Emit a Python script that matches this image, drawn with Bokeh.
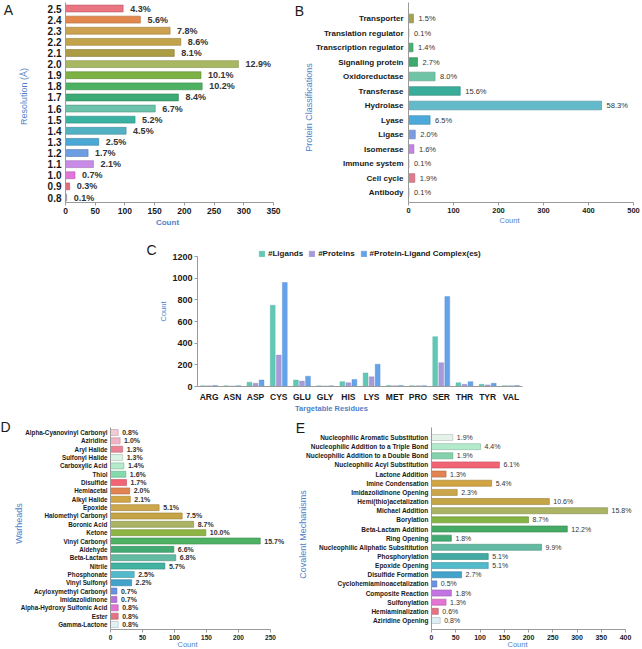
import math
from bokeh.plotting import figure
from bokeh.models import (Range1d, FactorRange, Legend, LegendItem, ColumnDataSource,
                          FixedTicker, GridBox)
from bokeh.layouts import column, row
from bokeh.transform import dodge
from bokeh.embed import file_html
from bokeh.resources import INLINE
from bokeh.core.properties import value

FONT = "Liberation Sans"
BLUE = "#4F7FC9"
AXIS = "#9a9a9a"
TXT = "#1a1a1a"

# ---------------- data ----------------
res_labels = ["2.5", "2.4", "2.3", "2.2", "2.1", "2.0", "1.9", "1.8", "1.7", "1.6",
              "1.5", "1.4", "1.3", "1.2", "1.1", "1.0", "0.9", "0.8"]
res_counts = [97, 126, 176, 194, 183, 291, 228, 230, 190, 151, 117, 102, 56, 38, 47, 16, 7, 2]
res_pct = ["4.3%", "5.6%", "7.8%", "8.6%", "8.1%", "12.9%", "10.1%", "10.2%", "8.4%", "6.7%",
           "5.2%", "4.5%", "2.5%", "1.7%", "2.1%", "0.7%", "0.3%", "0.1%"]
res_colors = ["#EA7482", "#E2874E", "#CCA250", "#C2A24A", "#AC9C44", "#A8B862", "#7CB244",
              "#4CB262", "#3CAA74", "#6CC2AA", "#3AB2A2", "#52B2C4", "#4AA8D4", "#6E9EE2",
              "#C98AE8", "#E274DA", "#E26A7A", "#A8A8B8"]

cls_labels = ["Transporter", "Translation regulator", "Transcription regulator", "Signaling protein",
              "Oxidoreductase", "Transferase", "Hydrolase", "Lyase", "Ligase", "Isomerase",
              "Immune system", "Cell cycle", "Antibody"]
cls_counts = [11, 1, 10, 20, 59, 115, 429, 48, 15, 12, 1, 14, 1]
cls_pct = ["1.5%", "0.1%", "1.4%", "2.7%", "8.0%", "15.6%", "58.3%", "6.5%", "2.0%", "1.6%",
           "0.1%", "1.9%", "0.1%"]
cls_colors = ["#A4A450", "#B0B0B0", "#44B474", "#3CAA6C", "#70C4A6", "#3AAC9A", "#62BACA",
              "#4CAADA", "#7C9CE2", "#C484E4", "#B0B0B0", "#E27C8C", "#B0B0B0"]

residues = ["ARG", "ASN", "ASP", "CYS", "GLU", "GLY", "HIS", "LYS", "MET", "PRO",
            "SER", "THR", "TYR", "VAL"]
n_ligands = [8, 7, 40, 750, 60, 6, 45, 125, 9, 8, 460, 35, 20, 8]
n_proteins = [6, 5, 30, 290, 50, 5, 35, 90, 7, 6, 220, 20, 15, 7]
n_complexes = [9, 8, 60, 960, 95, 7, 65, 205, 10, 8, 830, 45, 30, 9]
series_names = ["#Ligands", "#Proteins", "#Protein-Ligand Complex(es)"]
series_colors = ["#62C8B6", "#A89ADA", "#64A2EA"]

war_labels = ["Alpha-Cyanovinyl Carbonyl", "Aziridine", "Aryl Halide", "Sulfonyl Halide",
              "Carboxylic Acid", "Thiol", "Disulfide", "Hemiacetal", "Alkyl Halide", "Epoxide",
              "Halomethyl Carbonyl", "Boronic Acid", "Ketone", "Vinyl Carbonyl", "Aldehyde",
              "Beta-Lactam", "Nitrile", "Phosphonate", "Vinyl Sulfonyl", "Acyloxymethyl Carbonyl",
              "Imidazolidinone", "Alpha-Hydroxy Sulfonic Acid", "Ester", "Gamma-Lactone"]
war_counts = [12, 15, 19, 19, 21, 24, 25, 30, 31, 76, 112, 130, 149, 234, 99, 102, 85, 37, 33,
              10, 10, 12, 12, 12]
war_pct = ["0.8%", "1.0%", "1.3%", "1.3%", "1.4%", "1.6%", "1.7%", "2.0%", "2.1%", "5.1%",
           "7.5%", "8.7%", "10.0%", "15.7%", "6.6%", "6.8%", "5.7%", "2.5%", "2.2%", "0.7%",
           "0.7%", "0.8%", "0.8%", "0.8%"]
war_colors = ["#F2CCD4", "#F2B4C2", "#EA8494", "#DAF2E4", "#B2EACA", "#84DAAC", "#F26474",
              "#E28452", "#D2A444", "#CCA64A", "#C4A444", "#AAB464", "#8EB444", "#4EB264",
              "#42AA72", "#62BAA2", "#42B2A2", "#52BACA", "#42A2CA", "#6A92E2", "#B474DA",
              "#E274D2", "#E27484", "#E2F2F4"]

mech_labels = ["Nucleophilic Aromatic Substitution", "Nucleophilic Addition to a Triple Bond",
               "Nucleophilic Addition to a Double Bond", "Nucleophilic Acyl Substitution",
               "Lactone Addition", "Imine Condensation", "Imidazolidinone Opening",
               "Hemi(thio)acetalization", "Michael Addition", "Borylation", "Beta-Lactam Addition",
               "Ring Opening", "Nucleophilic Aliphatic Subsititution", "Phosphorylation",
               "Epoxide Opening", "Disulfide Formation", "Cyclohemiaminoacetalization",
               "Composite Reaction", "Sulfonylation", "Hemiaminalization", "Aziridine Opening"]
mech_counts = [44, 101, 44, 140, 30, 124, 53, 243, 363, 200, 280, 41, 227, 117, 117, 62, 11,
               41, 30, 14, 18]
mech_pct = ["1.9%", "4.4%", "1.9%", "6.1%", "1.3%", "5.4%", "2.3%", "10.6%", "15.8%", "8.7%",
            "12.2%", "1.8%", "9.9%", "5.1%", "5.1%", "2.7%", "0.5%", "1.8%", "1.3%", "0.6%", "0.8%"]
mech_colors = ["#E4F2EA", "#B4EACC", "#84D2AC", "#F26474", "#E28452", "#D2A444", "#CCA64A",
               "#C4A444", "#AAB464", "#84B444", "#44AA64", "#42AA72", "#62BAA2", "#42AAA2",
               "#52BACA", "#42A2CA", "#6A92E2", "#C474E2", "#E274D2", "#E27484", "#DCEEF4"]

PAGE_W, PAGE_H = 640, 648


def darker(c, f=0.78):
    h = c.lstrip("#")
    r, g, b = int(h[0:2], 16), int(h[2:4], 16), int(h[4:6], 16)
    return "#%02x%02x%02x" % (int(r * f), int(g * f), int(b * f))


def make_fig(ox, oy, W, H, L, T, R, B, x_range, y_range):
    p = figure(width=W, height=H, x_range=x_range, y_range=y_range,
               output_backend="svg", toolbar_location=None, title=None,
               min_border_left=L - ox, min_border_right=ox + W - R,
               min_border_top=T - oy, min_border_bottom=oy + H - B)
    p.outline_line_color = None
    p.grid.visible = False
    p.background_fill_alpha = 0
    p.border_fill_alpha = 0
    return p


def hpanel(ox, oy, W, H, L, T, R, B, first_c, last_c, cats, counts, pcts, colors, xticks,
           axis_end_px, bar_h, cat_size, pct_size, tick_size, pct_bold, pct_off, cat_standoff):
    n = len(cats)
    step = (last_c - first_c) / (n - 1)

    def v(py):
        return (n - 1) - (py - first_c) / step

    x_end = xticks[-1] * (R - L) / (axis_end_px - L)
    p = make_fig(ox, oy, W, H, L, T, R, B, Range1d(0, x_end), Range1d(v(B), v(T)))
    ypos = [n - 1 - i for i in range(n)]
    src = ColumnDataSource(dict(y=ypos, cnt=counts, pct=pcts, col=colors,
                                edge=[darker(c) for c in colors]))
    p.hbar(y="y", left=0, right="cnt", height=bar_h, source=src, fill_color="col",
           line_color="edge", line_width=0.6)
    p.text(x="cnt", y="y", text="pct", source=src, x_offset=pct_off, text_baseline="middle",
           text_font=value(FONT), text_font_size=pct_size, text_color="#333333",
           text_font_style="bold" if pct_bold else "normal")

    xa = p.xaxis[0]
    xa.ticker = FixedTicker(ticks=xticks)
    xa.bounds = (0, xticks[-1])
    xa.axis_line_color = AXIS
    xa.major_tick_line_color = AXIS
    xa.major_tick_out = 3
    xa.major_tick_in = 0
    xa.minor_tick_line_color = None
    xa.major_label_standoff = 2
    xa.major_label_text_font = FONT
    xa.major_label_text_font_style = "bold"
    xa.major_label_text_font_size = tick_size
    xa.major_label_text_color = TXT
    ya = p.yaxis[0]
    ya.ticker = FixedTicker(ticks=ypos)
    ya.major_label_overrides = {y: c for y, c in zip(ypos, cats)}
    ya.axis_line_color = AXIS
    ya.major_tick_line_color = None
    ya.major_tick_out = 0
    ya.major_tick_in = 0
    ya.minor_tick_line_color = None
    ya.major_label_standoff = cat_standoff
    ya.major_label_text_font = FONT
    ya.major_label_text_font_style = "bold"
    ya.major_label_text_font_size = cat_size
    ya.major_label_text_color = TXT
    return p


# ---------------- background figure holding panel letters and axis titles ----------------
bg = figure(width=PAGE_W, height=PAGE_H, x_range=Range1d(0, PAGE_W), y_range=Range1d(0, PAGE_H),
            output_backend="svg", toolbar_location=None, title=None,
            x_axis_type=None, y_axis_type=None,
            min_border_left=0, min_border_right=0, min_border_top=0, min_border_bottom=0)
bg.outline_line_color = None
bg.grid.visible = False
bg.background_fill_color = "white"
bg.border_fill_color = "white"


def put(sx, sy, text, size, color=TXT, bold=False, vertical=False):
    bg.text(x=[sx], y=[PAGE_H - sy], text=[text], text_font=value(FONT), text_font_size=size,
            text_color=color, text_align="center", text_baseline="middle",
            angle=math.pi / 2 if vertical else 0.0,
            text_font_style="bold" if bold else "normal")


# ---------------- Panel A ----------------
pA = hpanel(0, 0, 292, 232, 65, 2, 273, 202, 8, 197, res_labels, res_counts, res_pct, res_colors,
            [0, 50, 100, 150, 200, 250, 300, 350], 273, 0.62, "10px", "9px", "8.5px", True, 7, 4)
put(8, 9, "A", "14px")
put(23, 96, "Resolution (Å)", "9px", BLUE, vertical=True)
put(167, 222, "Count", "8px", BLUE, bold=True)

# ---------------- Panel B ----------------
pB = hpanel(292, 0, 348, 232, 408, 2, 633, 202, 18, 192, cls_labels, cls_counts, cls_pct,
            cls_colors, [0, 100, 200, 300, 400, 500], 633, 0.6, "8px", "7.5px", "7.5px",
            False, 5, 5)
put(299, 10, "B", "14px")
put(308, 107, "Protein Classifications", "9px", BLUE, vertical=True)
put(509, 220, "Count", "7.5px", BLUE)

# ---------------- Panel C ----------------
C_top, C_tick_top, C_bot = 244, 256, 386
c_yend = 1200 * (C_bot - C_top) / (C_bot - C_tick_top)
pC = make_fig(0, 232, 640, 183, 197, C_top, 522, C_bot, FactorRange(factors=residues),
              Range1d(0, c_yend))
srcC = ColumnDataSource(dict(res=residues, lig=n_ligands, pro=n_proteins, cpx=n_complexes))
rends = []
for key, off, col in zip(["lig", "pro", "cpx"], [-0.26, 0.0, 0.26], series_colors):
    r = pC.vbar(x=dodge("res", off, range=pC.x_range), top=key, width=0.21, source=srcC,
                fill_color=col, line_color=darker(col, 0.9), line_width=0.4)
    rends.append(r)
xa = pC.xaxis[0]
xa.axis_line_color = AXIS
xa.major_tick_line_color = None
xa.major_tick_out = 0
xa.major_label_standoff = 5
xa.major_label_text_font = FONT
xa.major_label_text_font_style = "bold"
xa.major_label_text_font_size = "8.5px"
xa.major_label_text_color = TXT
ya = pC.yaxis[0]
ya.ticker = FixedTicker(ticks=[0, 200, 400, 600, 800, 1000, 1200])
ya.bounds = (0, 1200)
ya.axis_line_color = AXIS
ya.major_tick_line_color = AXIS
ya.major_tick_out = 3
ya.major_tick_in = 0
ya.minor_tick_line_color = None
ya.major_label_standoff = 2
ya.major_label_text_font = FONT
ya.major_label_text_font_style = "bold"
ya.major_label_text_font_size = "9px"
ya.major_label_text_color = TXT
leg = Legend(items=[LegendItem(label=n, renderers=[r]) for n, r in zip(series_names, rends)],
             orientation="horizontal", location=(258 - 197, C_bot - 258),
             background_fill_alpha=0, border_line_color=None, padding=0, margin=0, spacing=5,
             glyph_width=7, glyph_height=7, label_standoff=3, label_height=9,
             label_text_font=FONT, label_text_font_style="bold", label_text_font_size="8px",
             label_text_color=TXT)
pC.add_layout(leg)
put(151, 249, "C", "14px")
put(163, 311, "Count", "7.5px", BLUE, vertical=True)
put(331, 408, "Targetable Residues", "7.5px", BLUE, bold=True)

# ---------------- Panel D ----------------
pD = hpanel(0, 415, 292, 233, 110, 427, 292, 629, 432, 624, war_labels, war_counts, war_pct,
            war_colors, [0, 50, 100, 150, 200, 250], 270, 0.72, "6.3px", "7px", "6.5px",
            True, 4, 3)
put(5, 426, "D", "14px")
put(18, 523, "Warheads", "9px", BLUE, vertical=True)
put(187, 644, "Count", "7.5px", BLUE)

# ---------------- Panel E ----------------
pE = hpanel(292, 415, 348, 233, 431, 427, 640, 629, 437, 620, mech_labels, mech_counts,
            mech_pct, mech_colors, [0, 50, 100, 150, 200, 250, 300, 350, 400], 625, 0.66,
            "6.5px", "7px", "7px", False, 4, 3)
put(300, 427, "E", "14px")
put(302, 534, "Covalent Mechanisms", "9px", BLUE, vertical=True)
put(517, 644, "Count", "7.5px", BLUE)

main = column(row(pA, pB, spacing=0), pC, row(pD, pE, spacing=0), spacing=0)
grid = GridBox(children=[(bg, 0, 0), (main, 0, 0)], spacing=0)
open("out.html", "w").write(file_html(grid, INLINE))
